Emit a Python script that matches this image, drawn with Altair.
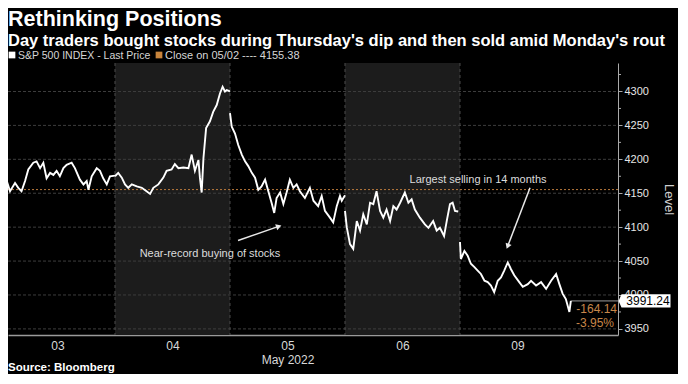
import altair as alt
import pandas as pd

# ---------------- data ----------------
days = ["03", "04", "05", "06", "09"]

minutes_03 = [0, 11, 23, 34, 51, 62, 73, 85, 96, 113, 124, 136, 147, 158, 170, 181, 192,
              203, 215, 226, 243, 254, 271, 283, 294, 300, 311, 328, 339, 350, 362, 373, 390]
prices_03 = [4163, 4155, 4168, 4153, 4165, 4158, 4153, 4168, 4185, 4195, 4197, 4187, 4195,
             4172, 4180, 4177, 4183, 4175, 4187, 4192, 4195, 4187, 4170, 4163, 4168, 4155,
             4175, 4187, 4183, 4172, 4163, 4175, 4176]

minutes_04 = [0, 11, 23, 34, 45, 57, 74, 91, 107, 119, 130, 147, 164, 175, 192, 203, 215,
              232, 249, 260, 271, 283, 288, 294, 300, 309, 322, 333, 345, 356, 365, 373, 379, 390]
prices_04 = [4175, 4180, 4173, 4163, 4158, 4163, 4160, 4158, 4153, 4149, 4158, 4163, 4173,
             4183, 4185, 4193, 4187, 4188, 4187, 4207, 4183, 4199, 4173, 4151, 4202, 4246,
             4256, 4270, 4280, 4297, 4307, 4300, 4302, 4300]

minutes_05 = [0, 6, 17, 28, 40, 51, 62, 74, 85, 96, 107, 119, 130, 141, 150, 158, 170, 181,
              192, 203, 215, 226, 237, 254, 271, 283, 299, 311, 322, 339, 350, 362, 373, 379, 390]
prices_05 = [4268, 4248, 4238, 4221, 4207, 4197, 4190, 4180, 4173, 4155, 4160, 4170, 4153,
             4136, 4121, 4143, 4151, 4134, 4151, 4170, 4158, 4163, 4153, 4143, 4158, 4139,
             4131, 4146, 4124, 4114, 4107, 4131, 4146, 4139, 4147]

minutes_06 = [0, 6, 17, 28, 40, 51, 62, 74, 85, 96, 107, 119, 130, 141, 153, 164, 175, 187,
              203, 215, 226, 237, 254, 271, 283, 299, 311, 322, 336, 345, 356, 365, 373, 384]
prices_06 = [4124, 4100, 4075, 4068, 4109, 4095, 4119, 4104, 4136, 4134, 4153, 4124, 4114,
             4126, 4109, 4131, 4126, 4136, 4151, 4136, 4141, 4126, 4114, 4104, 4099, 4109,
             4095, 4099, 4087, 4109, 4134, 4136, 4124, 4123]

minutes_09 = [0, 3, 15, 26, 37, 49, 60, 71, 83, 94, 105, 116, 128, 139, 150, 162, 173, 184,
              201, 213, 230, 241, 258, 275, 292, 309, 326, 337, 348, 359, 371, 376]
prices_09 = [4078, 4053, 4065, 4058, 4046, 4041, 4036, 4031, 4021, 4019, 4014, 4004, 4021,
             4026, 4036, 4048, 4038, 4029, 4019, 4012, 4016, 4021, 4014, 4019, 4009, 4021,
             4031, 4016, 4002, 3994, 3975, 3991.24]

session_minutes = 390
close_prev = 4155.38
last_price = 3991.24
net_change = "-164.14"
pct_change = "-3.95%"

shaded_days = [1, 3]
day_bounds = [1, 2, 3, 4]
grid_levels = [3950, 4000, 4050, 4100, 4150, 4200, 4250, 4300]
ytick_values = [3950, 4000, 4050, 4100, 4150, 4200, 4250, 4300]
minor_ticks = [3975, 4025, 4075, 4125, 4175, 4225, 4275, 4325]
xtick_values = [0.5, 1.5, 2.5, 3.5, 4.5]

title_text = "Rethinking Positions"
subtitle_text = "Day traders bought stocks during Thursday's dip and then sold amid Monday's rout"
legend_1 = "S&P 500 INDEX - Last Price"
legend_2 = "Close on 05/02 ---- 4155.38"
source_text = "Source: Bloomberg"

note_text = ["Near-record buying of stocks", "Largest selling in 14 months"]
note_t = [1.826, 4.157]
note_price = [4059.8, 4169.7]

arrow_id = ["a", "a", "b", "b"]
arrow_t = [2.070, 2.417, 4.609, 4.417]
arrow_price = [4080.3, 4100.8, 4158.0, 4073.0]
arrow_order = [0, 1, 0, 1]
head_t = [2.417, 4.417]
head_price = [4100.8, 4073.0]
head_angle = [71, 201]

# ---------------- build tables ----------------
all_minutes = [minutes_03, minutes_04, minutes_05, minutes_06, minutes_09]
all_prices = [prices_03, prices_04, prices_05, prices_06, prices_09]
rows = []
for i, (mins, prs) in enumerate(zip(all_minutes, all_prices)):
    for m, p in zip(mins, prs):
        rows.append({"day": days[i], "t": i + m / session_minutes, "price": p})
price_df = pd.DataFrame(rows)
last_t = rows[-1]["t"]

W, H = 610, 272
FONT = "Liberation Sans"
xs = alt.Scale(domain=[0.0696, 5.374], nice=False, zero=False)
ys = alt.Scale(domain=[3941, 4342], nice=False, zero=False)

label_expr = "[" + ",".join("'" + d + "'" for d in days) + "][floor(datum.value)]"

AX = alt.Axis(
    orient="bottom", values=xtick_values, labelExpr=label_expr, labelFlush=False,
    labelColor="#d8d8d8", labelFontSize=12, labelPadding=5, ticks=False, grid=False,
    domainColor="#9a9a9a", domainWidth=1.5,
    title="May 2022", titleColor="#d8d8d8", titleFontSize=12, titleFontWeight="normal",
    titleX=279.5, titleY=28, titleAlign="center", titleBaseline="alphabetic")
AY = alt.Axis(
    orient="right", values=ytick_values, format="d",
    labelColor="#e6e6e6", labelFontSize=11, labelPadding=2, labelFlush=False,
    tickColor="#aaaaaa", tickSize=4,
    domainColor="#aaaaaa", grid=False,
    title="Level", titleColor="#cfcfcf", titleFontSize=13, titleFontWeight="normal",
    titleAngle=90, titleX=50, titleY=H / 2, titleAlign="center",
    titleBaseline="middle")


def X(field):
    return alt.X(field, scale=xs, axis=AX)


def Y(field):
    return alt.Y(field, scale=ys, axis=AY)


shade = alt.Chart(pd.DataFrame({"start": shaded_days,
                                "end": [d + 1 for d in shaded_days]})).mark_rect(
    color="#1c1c1c").encode(
    x=X("start:Q"), x2="end:Q", y=alt.value(0), y2=alt.value(H))

hgrid = alt.Chart(pd.DataFrame({"g": grid_levels})).mark_rule(
    color="#3d3d3d", strokeDash=[3, 2], strokeWidth=1).encode(
    y=Y("g:Q"), x=alt.value(0), x2=alt.value(W))

vgrid = alt.Chart(pd.DataFrame({"b": day_bounds})).mark_rule(
    color="#4a4a4a", strokeDash=[3, 3], strokeWidth=1).encode(
    x=X("b:Q"), y=alt.value(0), y2=alt.value(H))

minor = alt.Chart(pd.DataFrame({"m": minor_ticks})).mark_rule(
    color="#aaaaaa", strokeWidth=1).encode(
    y=Y("m:Q"), x=alt.value(W), x2=alt.value(W + 3))

close_line = alt.Chart(pd.DataFrame({"level": [close_prev]})).mark_rule(
    color="#b8793c", strokeDash=[2, 2], strokeWidth=1).encode(
    y=Y("level:Q"), x=alt.value(0), x2=alt.value(W))

connector = alt.Chart(pd.DataFrame({"t": [last_t], "price": [last_price]})).mark_rule(
    color="#9a9a9a", strokeWidth=1).encode(
    x=X("t:Q"), x2=alt.value(W), y=Y("price:Q"))

line = alt.Chart(price_df).mark_line(color="#ffffff", strokeWidth=1.9, clip=True).encode(
    x=X("t:Q"), y=Y("price:Q"), detail="day:N")

arrows = alt.Chart(pd.DataFrame({"id": arrow_id, "t": arrow_t, "price": arrow_price,
                                 "o": arrow_order})).mark_line(
    color="#e8e8e8", strokeWidth=1.5).encode(
    x=X("t:Q"), y=Y("price:Q"), detail="id:N", order="o:Q")

heads = alt.Chart(pd.DataFrame({"t": head_t, "price": head_price,
                                "ang": head_angle})).mark_point(
    shape="triangle", filled=True, color="#e8e8e8", size=40, opacity=1).encode(
    x=X("t:Q"), y=Y("price:Q"), angle=alt.Angle("ang:Q", scale=None))

notes = alt.Chart(pd.DataFrame({"t": note_t, "price": note_price,
                                "text": note_text})).mark_text(
    color="#dcdcdc", fontSize=11, font=FONT, baseline="middle").encode(
    x=X("t:Q"), y=Y("price:Q"), text="text:N")

box_shape = "M-1.12,0L-1,-0.27L1,-0.27L1,0.27L-1,0.27Z"
last_df = pd.DataFrame({"price": [last_price], "label": [f"{last_price:.2f}"],
                        "chg": [net_change], "pct": [pct_change]})
box = alt.Chart(last_df).mark_point(
    shape=box_shape, filled=True, color="#ffffff", size=2401, opacity=1).encode(
    x=alt.value(638), y=Y("price:Q"))
box_text = alt.Chart(last_df).mark_text(
    color="#000000", fontSize=12, font=FONT, baseline="middle").encode(
    x=alt.value(640), y=Y("price:Q"), text="label:N")
chg_text = alt.Chart(last_df).mark_text(
    color="#c8874a", fontSize=12, font=FONT, baseline="middle", align="right", dy=8).encode(
    x=alt.value(609), y=Y("price:Q"), text="chg:N")
pct_text = alt.Chart(last_df).mark_text(
    color="#c8874a", fontSize=12, font=FONT, baseline="middle", align="right", dy=22).encode(
    x=alt.value(606), y=Y("price:Q"), text="pct:N")


def header(txt, x, y, size, weight="normal", color="#ffffff"):
    return alt.Chart(pd.DataFrame({"text": [txt]})).mark_text(
        align="left", baseline="alphabetic", fontSize=size, fontWeight=weight,
        font=FONT, color=color).encode(
        x=alt.value(x), y=alt.value(y), text="text:N")


title = header(title_text, 0, -37, 21.5, "bold")
subtitle = header(subtitle_text, 0, -17.5, 16.5, "bold")
leg1 = header(legend_1, 10, -4, 10.5, color="#d6d6d6")
leg2 = header(legend_2, 157, -4, 11, color="#d6d6d6")
source = header(source_text, 0, 308, 11.5, "bold")

sq_white = alt.Chart(pd.DataFrame({"k": [0]})).mark_square(
    size=45, opacity=1, color="#ffffff").encode(x=alt.value(4), y=alt.value(-8))
sq_orange = alt.Chart(pd.DataFrame({"k": [0]})).mark_square(
    size=45, opacity=1, color="#c8843c").encode(x=alt.value(151), y=alt.value(-8))

chart = alt.layer(
    shade, hgrid, vgrid, minor, close_line, connector, line, arrows, heads, notes,
    box, box_text, chg_text, pct_text, title, subtitle, leg1, leg2, source,
    sq_white, sq_orange
).properties(
    width=W, height=H,
    autosize=alt.AutoSizeParams(type="none"),
    padding={"left": 0, "top": 55, "right": 60, "bottom": 39},
    background="#000000",
).configure(font=FONT).configure_view(stroke=None)

chart.save("out.html", embed_options={"renderer": "svg", "actions": False})
